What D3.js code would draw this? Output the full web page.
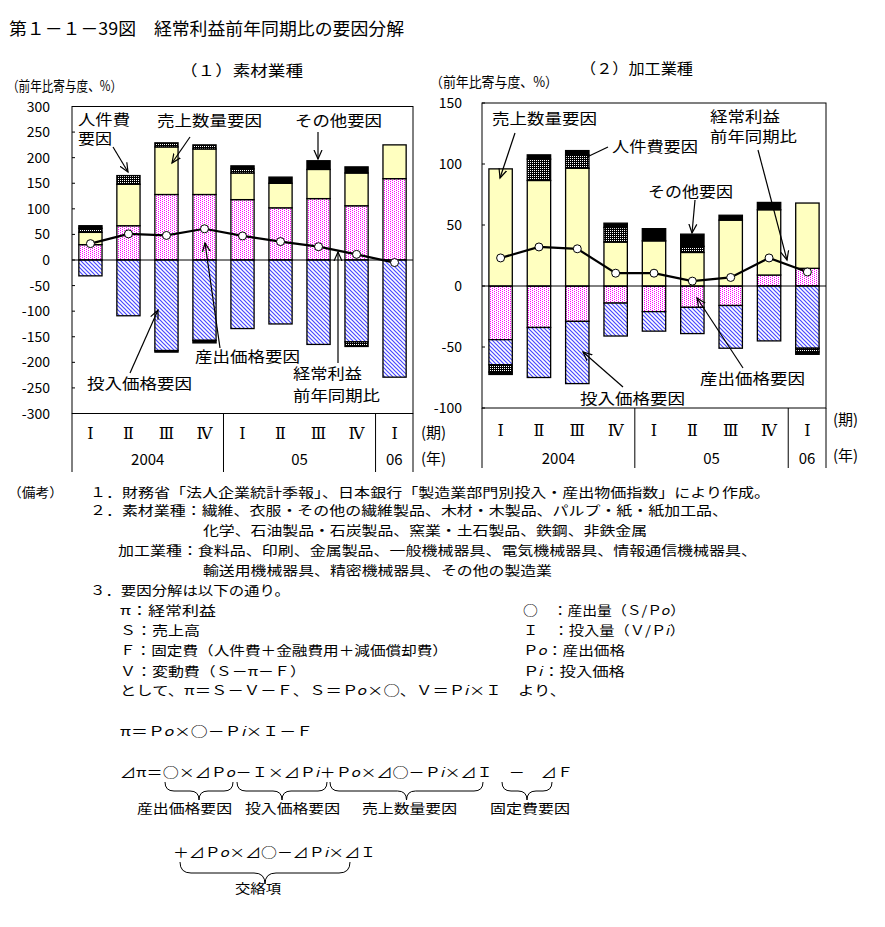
<!DOCTYPE html>
<html><head><meta charset="utf-8">
<script src="https://cdn.jsdelivr.net/npm/d3@7"></script>
<style>
body{margin:0;background:#fff}
svg text{font-family:"Noto Sans CJK JP","Noto Sans CJK SC",sans-serif;fill:#000}
</style>
</head><body><svg id="c" width="885" height="927"></svg>
<script>
// ---------------- data ----------------
const periods = ["Ⅰ","Ⅱ","Ⅲ","Ⅳ","Ⅰ","Ⅱ","Ⅲ","Ⅳ","Ⅰ"];
const yearLabels = ["2004","05","06"];
const yearStarts = [0,4,8];
const yearEnds = [4,8,9];
const seriesKeys = ["outputPrice","inputPrice","salesQty","labor","other"];

// (1) 素材業種
const matOutputPrice = [30, 67, 128, 128, 118, 102, 120, 106, 159];
const matInputPrice  = [-31, -109, -177, -157, -134, -125, -165, -160, -229];
const matSalesQty    = [24, 81, 93, 89, 52, 48, 57, 64, 66];
const matLabor       = [8, 17, 8, 8, 8, 0, 0, -9, 0];
const matOther       = [5, 0, -3, -5, 6, 12, 17, 12, 0];
const matTotal       = [32, 51, 48, 61, 47, 36, 26, 11, -5];
const matTicks       = [300,250,200,150,100,50,0,-50,-100,-150,-200,-250,-300];

// (2) 加工業種
const procOutputPrice = [-44, -34, -29, -14, -21, -17.5, -16, 9, 14.5];
const procInputPrice  = [-20.5, -41, -51, -27, -16, -21.5, -35, -45, -51];
const procSalesQty    = [96, 86.5, 96.5, 36, 37, 27.5, 54, 53.5, 53.5];
const procLabor       = [-6, 17.5, 11, 12, 0, 5, 0, 0, -3];
const procOther       = [-2, 3.5, 3.5, 3.5, 10, 10, 4, 6, -2];
const procTotal       = [23, 32, 30.5, 10.5, 10.5, 4, 7, 23, 11.5];
const procTicks       = [150,100,50,0,-50,-100];

// ---------------- setup ----------------
const svg = d3.select("#c");
const defs = svg.append("defs");

const pOut = defs.append("pattern").attr("id","pOut").attr("patternUnits","userSpaceOnUse").attr("width",4).attr("height",2);
pOut.append("rect").attr("width",4).attr("height",2).attr("fill","#fff").attr("shape-rendering","crispEdges");
pOut.append("rect").attr("width",1).attr("height",1).attr("fill","#ff00ff").attr("shape-rendering","crispEdges");
pOut.append("rect").attr("x",2).attr("y",1).attr("width",1).attr("height",1).attr("fill","#ff00ff").attr("shape-rendering","crispEdges");

const pIn = defs.append("pattern").attr("id","pIn").attr("patternUnits","userSpaceOnUse").attr("width",4).attr("height",4);
pIn.append("rect").attr("width",4).attr("height",4).attr("fill","#fff");
pIn.append("path").attr("d","M-1,-1L5,5M-1,3L1,5M3,-1L5,1").attr("stroke","#4848ff").attr("stroke-width",1.2);

const pLab = defs.append("pattern").attr("id","pLab").attr("patternUnits","userSpaceOnUse").attr("width",2).attr("height",2);
pLab.append("rect").attr("width",2).attr("height",2).attr("fill","#000").attr("shape-rendering","crispEdges");
pLab.append("rect").attr("width",1).attr("height",1).attr("fill","#fff").attr("shape-rendering","crispEdges");

const fills = {outputPrice:"url(#pOut)", inputPrice:"url(#pIn)", salesQty:"#ffffc0", labor:"url(#pLab)", other:"#000"};

const arrow = defs.append("marker").attr("id","arr").attr("markerUnits","userSpaceOnUse")
  .attr("markerWidth",12).attr("markerHeight",12).attr("refX",9).attr("refY",4).attr("orient","auto")
  .attr("viewBox","0 0 12 8");
arrow.append("path").attr("d","M0,0L9,4L0,8").attr("fill","none").attr("stroke","#000").attr("stroke-width",1.2);

function txt(s, x, y, size, len, anchor){
  const t = svg.append("text").attr("x",x).attr("y",y).attr("font-size",size).text(s);
  if (anchor) t.attr("text-anchor",anchor);
  if (len) t.attr("textLength",len).attr("lengthAdjust","spacingAndGlyphs");
  return t;
}

function drawPanel(cfg){
  const rows = periods.map((p,i)=>({outputPrice:cfg.out[i], inputPrice:cfg.inp[i], salesQty:cfg.sales[i], labor:cfg.labor[i], other:cfg.other[i]}));
  const series = d3.stack().keys(seriesKeys).offset(d3.stackOffsetDiverging)(rows);
  const x = d3.scaleBand().domain(d3.range(periods.length)).range([cfg.x0,cfg.x1]).paddingInner(0.39).paddingOuter(0.18);
  const y = d3.scaleLinear().domain(cfg.domain).range([cfg.yBot,cfg.yTop]);
  const g = svg.append("g");

  // frame
  g.append("rect").attr("x",cfg.x0).attr("y",y(cfg.domain[1])).attr("width",cfg.x1-cfg.x0).attr("height",y(cfg.domain[0])-y(cfg.domain[1]))
    .attr("fill","#fff").attr("stroke","#000").attr("stroke-width",1);
  // ticks (inward)
  cfg.ticks.forEach(t=>{
    g.append("line").attr("x1",cfg.x0).attr("x2",cfg.x0+3).attr("y1",y(t)).attr("y2",y(t)).attr("stroke","#000");
    txt(String(t), cfg.tickX, y(t)+5, 14, null, "end");
  });

  // bars
  series.forEach(s=>{
    g.append("g").selectAll("rect").data(s.filter(d=>d[1]!==d[0])).join("rect")
      .attr("x",d=>x(s.indexOf(d)))
      .attr("width",x.bandwidth())
      .attr("y",d=>y(Math.max(d[0],d[1])))
      .attr("height",d=>Math.abs(y(d[0])-y(d[1])))
      .attr("fill",fills[s.key]).attr("stroke","#000").attr("stroke-width",1.3);
  });
  // zero line
  g.append("line").attr("x1",cfg.x0).attr("x2",cfg.x1).attr("y1",y(0)).attr("y2",y(0)).attr("stroke","#000").attr("stroke-width",1);

  // total line
  const cx = i=>x(i)+x.bandwidth()/2;
  g.append("path").datum(cfg.total).attr("fill","none").attr("stroke","#000").attr("stroke-width",2.2)
    .attr("d",d3.line().x((d,i)=>cx(i)).y(d=>y(d)));
  g.selectAll("circle.m").data(cfg.total).join("circle").attr("class","m")
    .attr("cx",(d,i)=>cx(i)).attr("cy",d=>y(d)).attr("r",4).attr("fill","#fff").attr("stroke","#000").attr("stroke-width",1);

  // category axis
  const yb = y(cfg.domain[0]);
  const sep = [cfg.x0].concat(yearEnds.map(e=> e===periods.length ? cfg.x1 : (x(e-1)+x.bandwidth()+x(e))/2));
  sep.forEach(sx=> g.append("line").attr("x1",sx).attr("x2",sx).attr("y1",yb).attr("y2",cfg.sepBottom).attr("stroke","#000"));
  periods.forEach((p,i)=>{
    g.append("text").attr("x",cx(i)).attr("y",cfg.perY).attr("text-anchor","middle")
      .attr("font-size",16).style("font-family","'DejaVu Serif',serif").text(p);
  });
  yearLabels.forEach((lab,k)=>{
    const a = sep[k], b = sep[k+1];
    txt(lab,(a+b)/2,cfg.yearY,15,null,"middle");
  });
  txt("(期)",cfg.unitX,cfg.perUnitY,15);
  txt("(年)",cfg.unitX,cfg.yearUnitY,15);
}

drawPanel({out:matOutputPrice, inp:matInputPrice, sales:matSalesQty, labor:matLabor, other:matOther, total:matTotal,
  ticks:matTicks, domain:[-300,300], x0:72, x1:413, yTop:106.5, yBot:413.5, tickX:50,
  sepBottom:472, perY:439, yearY:465, unitX:421, perUnitY:438, yearUnitY:464});
drawPanel({out:procOutputPrice, inp:procInputPrice, sales:procSalesQty, labor:procLabor, other:procOther, total:procTotal,
  ticks:procTicks, domain:[-100,150], x0:482, x1:826, yTop:103, yBot:408, tickX:462,
  sepBottom:468, perY:436, yearY:464, unitX:833, perUnitY:425, yearUnitY:461});

// ---------------- titles ----------------
txt("第１－１－39図　経常利益前年同期比の要因分解", 9, 35, 17, 395);
txt("（１）素材業種", 180, 76, 15, 123);
txt("（２）加工業種", 580, 74, 15, 113);
txt("（前年比寄与度、%）", 7, 91, 14, 115);
txt("（前年比寄与度、%）", 430, 87, 14, 128);

// ---------------- annotations ----------------
function ann(s,x,y,len){ txt(s,x,y,15,len); }
function arr(x1,y1,x2,y2,head=true){
  const l = svg.append("line").attr("x1",x1).attr("y1",y1).attr("x2",x2).attr("y2",y2).attr("stroke","#000").attr("stroke-width",1.2);
  if (head) l.attr("marker-end","url(#arr)");
}
ann("人件費",78,125,52); ann("要因",78,144,34);
ann("売上数量要因",157,126,105);
ann("その他要因",295,126,87);
ann("産出価格要因",195,362,105);
ann("投入価格要因",87,389,105);
ann("経常利益",293,379,69); ann("前年同期比",293,401,87);
arr(113,147,128,172); arr(190,137,172,163); arr(318,132,318,159);
arr(220,348,205,243); arr(130,373,158,310); arr(338,363,338,252);

ann("売上数量要因",492,124,105);
ann("人件費要因",612,152,86);
ann("その他要因",648,197,85);
ann("経常利益",710,122,70); ann("前年同期比",710,142,87);
ann("産出価格要因",700,384,105);
ann("投入価格要因",580,404,105);
arr(515,133,500,178); arr(608,147,587,157,false); arr(695,200,692,233);
arr(758,150,787,260); arr(743,368,697,298); arr(623,387,583,352);

// ---------------- notes ----------------
const nfs = 13;
function note(s,x,y,len){ txt(s,x,y,nfs,len); }
note("（備考）",8,497,55);
note("１．財務省「法人企業統計季報」、日本銀行「製造業部門別投入・産出物価指数」により作成。",90,497,680);
note("２．素材業種：繊維、衣服・その他の繊維製品、木材・木製品、パルプ・紙・紙加工品、",90,515,638);
note("化学、石油製品・石炭製品、窯業・土石製品、鉄鋼、非鉄金属",203,535,444);
note("加工業種：食料品、印刷、金属製品、一般機械器具、電気機械器具、情報通信機械器具、",118,555,639);
note("輸送用機械器具、精密機械器具、その他の製造業",203,575,349);
note("３．要因分解は以下の通り。",90,595,200);
note("π：経常利益",120,615,96);
note("Ｓ：売上高",120,635,80);
note("Ｆ：固定費（人件費＋金融費用＋減価償却費）",120,655,328);
note("Ｖ：変動費（Ｓ－π－Ｆ）",120,676,186);
note("として、π＝Ｓ－Ｖ－Ｆ、Ｓ＝Ｐ𝑜×○、Ｖ＝Ｐ𝑖×Ｉ　より、",120,695,446);
note("○　：産出量（Ｓ/Ｐ𝑜）",523,615,162);
note("Ｉ　：投入量（Ｖ/Ｐ𝑖）",523,635,162);
note("Ｐ𝑜：産出価格",523,655,102);
note("Ｐ𝑖：投入価格",523,676,102);
note("π＝Ｐ𝑜×○－Ｐ𝑖×Ｉ－Ｆ",120,736,193);
note("⊿π＝○×⊿Ｐ𝑜－Ｉ×⊿Ｐ𝑖＋Ｐ𝑜×⊿○－Ｐ𝑖×⊿Ｉ　－　⊿Ｆ",120,777,453);

function brace(x1,x2,y0,h){
  const m=(x1+x2)/2, r=h/2;
  svg.append("path").attr("fill","none").attr("stroke","#000").attr("stroke-width",1)
    .attr("d",`M${x1},${y0} Q${x1},${y0+r} ${x1+r},${y0+r} L${m-r},${y0+r} Q${m},${y0+r} ${m},${y0+h} Q${m},${y0+r} ${m+r},${y0+r} L${x2-r},${y0+r} Q${x2},${y0+r} ${x2},${y0}`);
}
brace(165,233,782,18); brace(237,327,782,18); brace(330,483,782,18); brace(502,552,782,18);
note("産出価格要因",137,813,95); note("投入価格要因",245,813,95); note("売上数量要因",362,813,95); note("固定費要因",490,813,80);
note("＋⊿Ｐ𝑜×⊿○－⊿Ｐ𝑖×⊿Ｉ",173,857,203);
brace(180,350,862,22);
note("交絡項",235,893,46);
</script>
</body></html>
